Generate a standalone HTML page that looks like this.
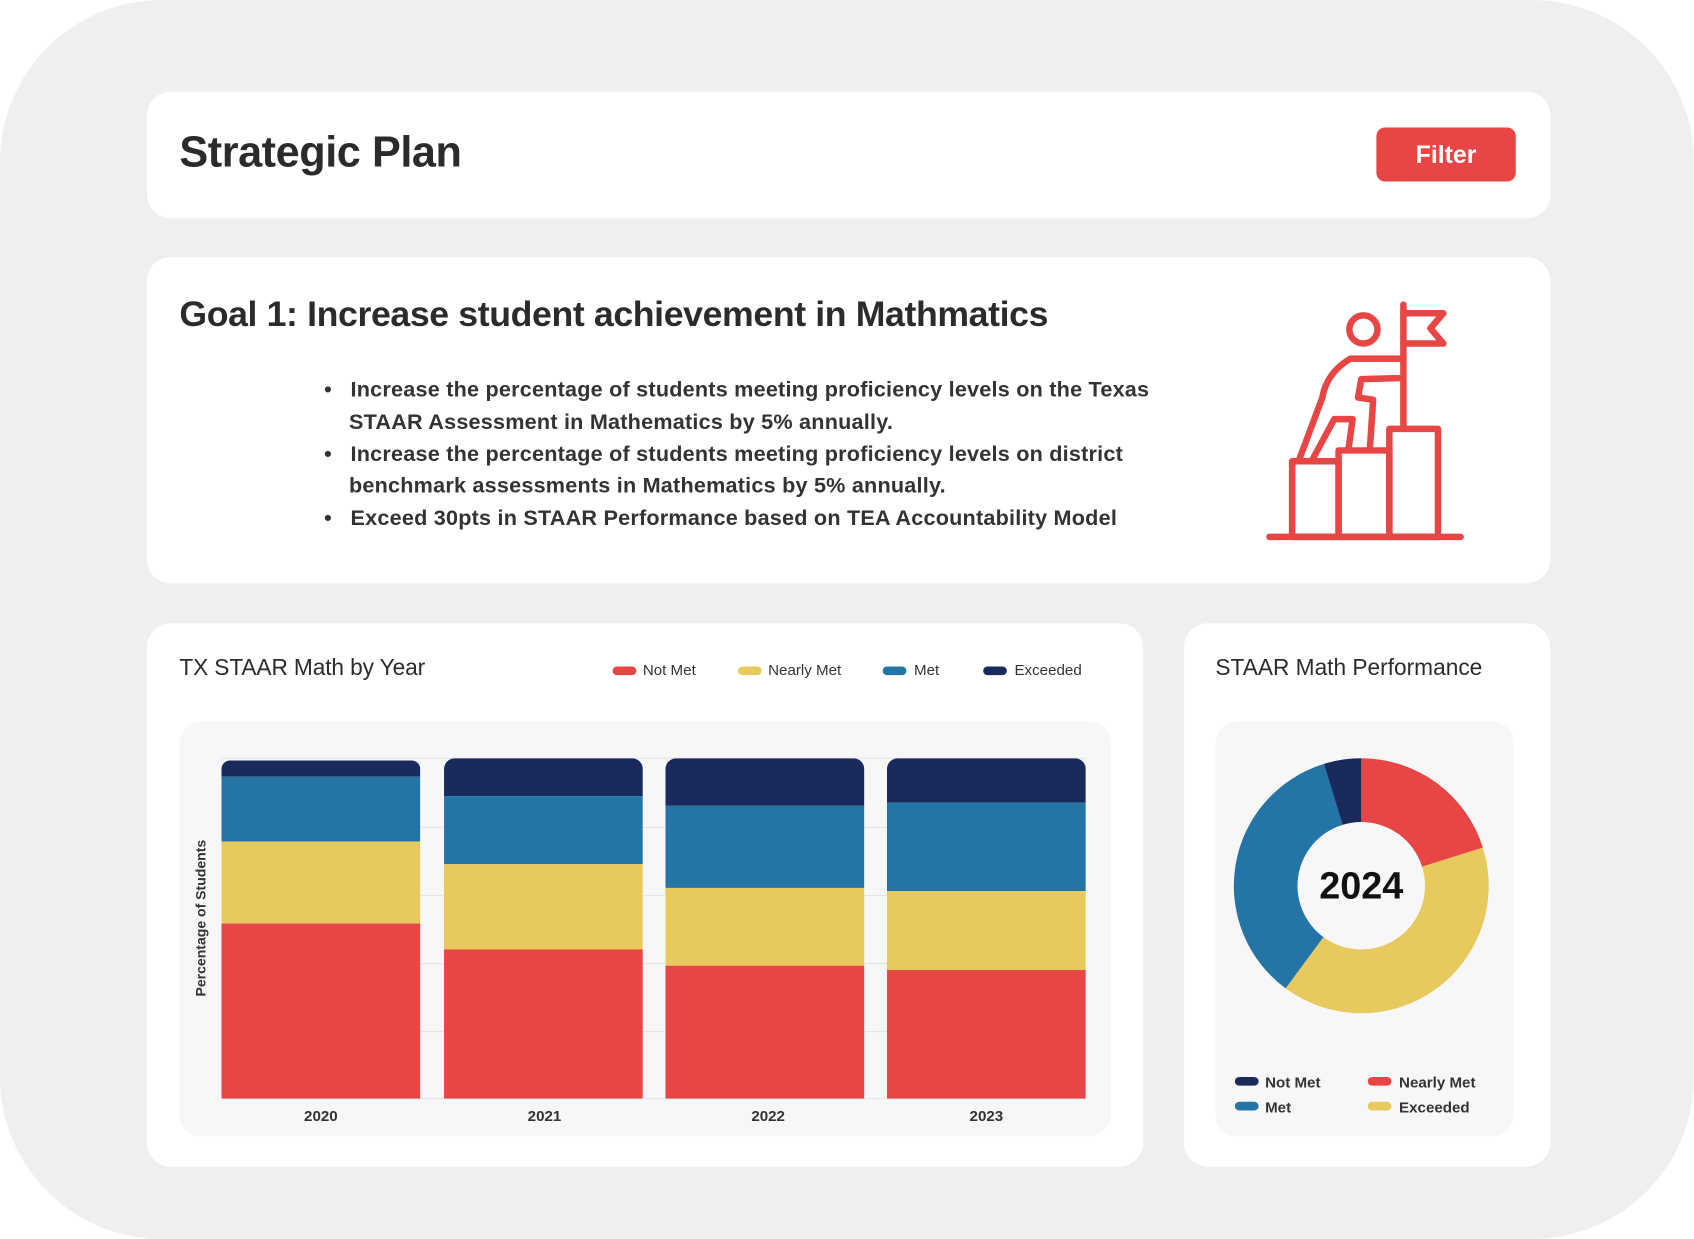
<!DOCTYPE html>
<html><head><meta charset="utf-8"><style>
html,body{margin:0;padding:0;background:#fff;}
body{width:1694px;height:1239px;overflow:hidden;font-family:"Liberation Sans",sans-serif;}
#w{width:1568px;height:1147px;transform:scale(1.08036,1.0802);transform-origin:0 0;position:relative;}
.bg{position:absolute;left:0;top:0;width:1568px;height:1147px;background:#efefef;border-radius:150px;}
.card{position:absolute;background:#fff;border-radius:22px;}
.t{position:absolute;white-space:nowrap;color:#2b2b2b;}
.sw{position:absolute;width:22px;height:8px;border-radius:4px;}
</style></head><body><div id="w">
<div class="bg"></div>
<div class="card" style="left:136px;top:85px;width:1299px;height:117px"></div>
<div class="t" style="left:166px;top:119px;font-size:40px;font-weight:bold;letter-spacing:-0.4px;">Strategic Plan</div>
<div style="position:absolute;left:1274px;top:118px;width:129px;height:50px;background:#e84545;border-radius:8px;color:#fff;font-size:23px;font-weight:bold;text-align:center;line-height:50px;">Filter</div>

<div class="card" style="left:136px;top:238px;width:1299px;height:302px"></div>
<div class="t" style="left:166px;top:272px;font-size:33px;font-weight:bold;letter-spacing:-0.35px;">Goal 1: Increase student achievement in Mathmatics</div>
<div class="t" style="left:300px;top:347px;font-size:20px;font-weight:bold;line-height:29.8px;letter-spacing:0.2px;color:#333;">
<div>•&nbsp;&nbsp;&nbsp;Increase the percentage of students meeting proficiency levels on the Texas</div>
<div style="padding-left:23px">STAAR Assessment in Mathematics by 5% annually.</div>
<div>•&nbsp;&nbsp;&nbsp;Increase the percentage of students meeting proficiency levels on district</div>
<div style="padding-left:23px">benchmark assessments in Mathematics by 5% annually.</div>
<div>•&nbsp;&nbsp;&nbsp;Exceed 30pts in STAAR Performance based on TEA Accountability Model</div>
</div>
<svg style="position:absolute;left:0;top:0" width="1568" height="1147">
<g fill="none" stroke="#e84545" stroke-width="6" stroke-linejoin="round" stroke-linecap="round">
<line x1="1175" y1="497" x2="1352" y2="497"/>
<rect x="1196" y="427" width="43" height="70"/>
<rect x="1239" y="417" width="47" height="80"/>
<rect x="1286" y="397" width="45" height="100"/>
<line x1="1299" y1="282" x2="1299" y2="397"/>
<path d="M1299 290 L1336 290 L1324 304 L1336 318 L1299 318"/>
<circle cx="1262" cy="305" r="13"/>
<path d="M1297 332 L1250 332 Q1228 345 1224 368 L1202 427"/>
<path d="M1297 350 L1260 351 L1257 368 L1271 370 L1268 415"/>
<path d="M1214 427 L1235 388 L1252 388 L1248 417"/>
</g>
</svg>

<div class="card" style="left:136px;top:577px;width:922px;height:503px"></div>
<div class="t" style="left:166px;top:607px;font-size:21px;letter-spacing:-0.1px;">TX STAAR Math by Year</div>
<div class="sw" style="left:567px;top:617px;background:#e84545"></div><div class="t" style="left:595px;top:612px;font-size:14px;color:#333">Not Met</div>
<div class="sw" style="left:683px;top:617px;background:#e8c95e"></div><div class="t" style="left:711px;top:612px;font-size:14px;color:#333">Nearly Met</div>
<div class="sw" style="left:817px;top:617px;background:#2474a5"></div><div class="t" style="left:846px;top:612px;font-size:14px;color:#333">Met</div>
<div class="sw" style="left:910px;top:617px;background:#1b2a5c"></div><div class="t" style="left:939px;top:612px;font-size:14px;color:#333">Exceeded</div>
<div style="position:absolute;left:166px;top:668px;width:862px;height:384px;background:#f7f7f7;border-radius:20px"></div>
<svg style="position:absolute;left:0;top:0" width="1568" height="1147">
<g stroke="#e6e6e6" stroke-width="1">
<line x1="205" y1="702" x2="1005" y2="702"/><line x1="205" y1="766" x2="1005" y2="766"/><line x1="205" y1="829" x2="1005" y2="829"/><line x1="205" y1="892" x2="1005" y2="892"/><line x1="205" y1="955" x2="1005" y2="955"/><line x1="205" y1="1017" x2="1005" y2="1017"/>
</g>
<defs>
<clipPath id="c1"><rect x="205" y="704" width="184" height="330" rx="8"/></clipPath>
<clipPath id="c2"><rect x="411" y="702" width="184" height="330" rx="10"/></clipPath>
<clipPath id="c3"><rect x="616" y="702" width="184" height="330" rx="10"/></clipPath>
<clipPath id="c4"><rect x="821" y="702" width="184" height="330" rx="10"/></clipPath>
</defs>
<g clip-path="url(#c1)"><rect x="205" y="704" width="184" height="15" fill="#1b2a5c"/><rect x="205" y="719" width="184" height="60" fill="#2474a5"/><rect x="205" y="779" width="184" height="76" fill="#e8c95e"/><rect x="205" y="855" width="184" height="162" fill="#e84545"/></g>
<g clip-path="url(#c2)"><rect x="411" y="702" width="184" height="35" fill="#1b2a5c"/><rect x="411" y="737" width="184" height="63" fill="#2474a5"/><rect x="411" y="800" width="184" height="79" fill="#e8c95e"/><rect x="411" y="879" width="184" height="138" fill="#e84545"/></g>
<g clip-path="url(#c3)"><rect x="616" y="702" width="184" height="44" fill="#1b2a5c"/><rect x="616" y="746" width="184" height="76" fill="#2474a5"/><rect x="616" y="822" width="184" height="72" fill="#e8c95e"/><rect x="616" y="894" width="184" height="123" fill="#e84545"/></g>
<g clip-path="url(#c4)"><rect x="821" y="702" width="184" height="41" fill="#1b2a5c"/><rect x="821" y="743" width="184" height="82" fill="#2474a5"/><rect x="821" y="825" width="184" height="73" fill="#e8c95e"/><rect x="821" y="898" width="184" height="119" fill="#e84545"/></g>
<g font-family="Liberation Sans" font-size="14" font-weight="bold" fill="#333" text-anchor="middle">
<text x="297" y="1038">2020</text><text x="504" y="1038">2021</text><text x="711" y="1038">2022</text><text x="913" y="1038">2023</text>
<text transform="translate(190,850) rotate(-90)" font-size="13">Percentage of Students</text>
</g>
</svg>

<div class="card" style="left:1096px;top:577px;width:339px;height:503px"></div>
<div class="t" style="left:1125px;top:607px;font-size:21px;letter-spacing:0px;">STAAR Math Performance</div>
<div style="position:absolute;left:1125px;top:668px;width:276px;height:384px;background:#f7f7f7;border-radius:20px"></div>
<svg style="position:absolute;left:0;top:0" width="1568" height="1147">
<path d="M1260 702 A118 118 0 0 1 1372.6 784.7 L1316.3 802.4 A59 59 0 0 0 1260 761 Z" fill="#e84545"/>
<path d="M1372.6 784.7 A118 118 0 0 1 1190 915 L1225 867.5 A59 59 0 0 0 1316.3 802.4 Z" fill="#e8c95e"/>
<path d="M1190 915 A118 118 0 0 1 1225.5 707.2 L1242.7 763.6 A59 59 0 0 0 1225 867.5 Z" fill="#2474a5"/>
<path d="M1225.5 707.2 A118 118 0 0 1 1260 702 L1260 761 A59 59 0 0 0 1242.7 763.6 Z" fill="#1b2a5c"/>
<text x="1260" y="832" font-family="Liberation Sans" font-size="35" font-weight="bold" text-anchor="middle" fill="#111">2024</text>
<g font-family="Liberation Sans" font-size="14" font-weight="bold" fill="#333">
<rect x="1143" y="997" width="22" height="8" rx="4" fill="#1b2a5c"/><text x="1171" y="1007">Not Met</text>
<rect x="1266" y="997" width="22" height="8" rx="4" fill="#e84545"/><text x="1295" y="1007">Nearly Met</text>
<rect x="1143" y="1020" width="22" height="8" rx="4" fill="#2474a5"/><text x="1171" y="1030">Met</text>
<rect x="1266" y="1020" width="22" height="8" rx="4" fill="#e8c95e"/><text x="1295" y="1030">Exceeded</text>
</g>
</svg>
</div></body></html>
